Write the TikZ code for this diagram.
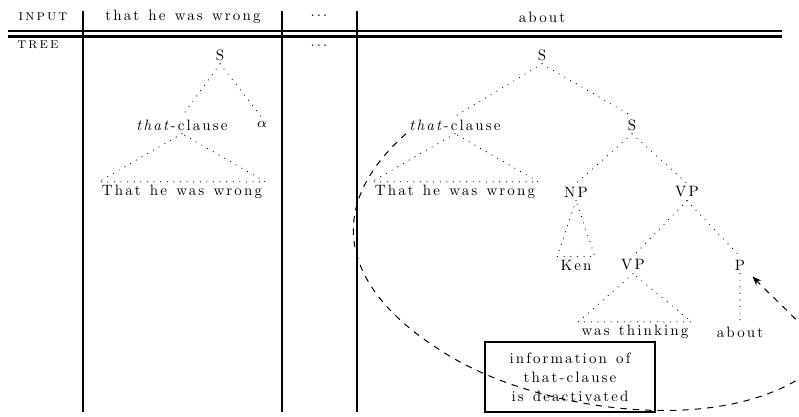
\documentclass[tikz,border=0pt]{standalone}
\usepackage{fontspec}
\setmainfont{lmroman10-regular}[Extension=.otf, ItalicFont=lmroman10-italic, SmallCapsFont=lmromancaps10-regular, LetterSpace=14, WordSpace=1.3]
\usetikzlibrary{arrows.meta,calc}
\begin{document}
\begin{tikzpicture}[x=0.5pt,y=-0.5pt,
  lab/.style={inner sep=1.5pt, font=\fontsize{7.5}{9}\selectfont},
  dotline/.style={line width=0.6pt, dash pattern=on 0pt off 3.3pt, line cap=round},
  rulel/.style={line width=1.2pt},
  dashcurve/.style={line width=0.5pt, dash pattern=on 3.2pt off 3pt},
  infobox/.style={draw, line width=1.2pt, minimum width=85pt, minimum height=35pt, align=center, inner sep=2pt, font=\fontsize{7.5}{9.5}\selectfont}]
\useasboundingbox (0,0) rectangle (799,417);
\clip (0,0) rectangle (799,417);
% table rules
\draw[rulel] (8,31) -- (782,31);
\draw[rulel] (8,36.5) -- (782,36.5);
\draw[rulel] (83,11) -- (83,412);
\draw[rulel] (282,11) -- (282,412);
\draw[rulel] (357,11) -- (357,412);
% header
\node[lab] (hin) at (44,17) {\textsc{input}};
\node[lab] (h1) at (183,17) {that he was wrong};
\node[lab] (h2) at (319,16) {...};
\node[lab] (h3) at (542,17) {about};
\node[lab] (htree) at (39,45) {\textsc{tree}};
\node[lab] (h4) at (319,46) {...};
% left tree
\node[lab] (lS) at (220,55) {S};
\node[lab] (ltc) at (182,125) {\textit{that}-clause};
\node[lab] (lal) at (262,124) {$\alpha$};
\node[lab] (lw) at (182,192) {That he was wrong};
\draw[dotline] (lS.south) -- (ltc.north);
\draw[dotline] (lS.south) -- (lal.north);
\draw[dotline] (ltc.south) -- (lw.north west) -- (lw.north east) -- cycle;
% right tree
\node[lab] (rS) at (542,55) {S};
\node[lab] (rtc) at (455,125) {\textit{that}-clause};
\node[lab] (rS2) at (632,125) {S};
\node[lab] (rw) at (455,192) {That he was wrong};
\node[lab] (np) at (576,192) {NP};
\node[lab] (vp) at (687,192) {VP};
\node[lab] (ken) at (576,265) {Ken};
\node[lab] (vp2) at (633,265) {VP};
\node[lab] (p) at (740,265) {P};
\node[lab] (wt) at (635,332) {was thinking};
\node[lab] (ab) at (740,332) {about};
\draw[dotline] (rS.south) -- (rtc.north);
\draw[dotline] (rS.south) -- (rS2.north);
\draw[dotline] (rtc.south) -- (rw.north west) -- (rw.north east) -- cycle;
\draw[dotline] (rS2.south) -- (np.north);
\draw[dotline] (rS2.south) -- (vp.north);
\draw[dotline] (np.south) -- (ken.north west) -- (ken.north east) -- cycle;
\draw[dotline] (vp.south) -- (vp2.north);
\draw[dotline] (vp.south) -- (p.north);
\draw[dotline] (vp2.south) -- (wt.north west) -- (wt.north east) -- cycle;
\draw[dotline] (p.south) -- (ab.north);
% box
\node[infobox] (info) at (570,377) {information of\\that-clause\\is deactivated};
% dashed curve
\coordinate (tip) at ($(p.south east)+(4,3)$);
\draw[dashcurve, -{Stealth[length=4.5pt,width=3.5pt]}] (rtc.south west)
  .. controls (320,210) and (345,290) .. (440,350)
  .. controls (530,410) and (720,440) .. (812,370)
  .. controls (837,351) and (790,315) .. (tip);
\end{tikzpicture}
\end{document}
